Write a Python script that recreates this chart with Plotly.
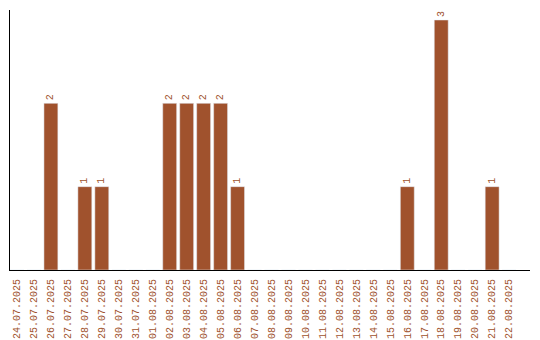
import plotly.graph_objects as go

dates = ["24.07.2025","25.07.2025","26.07.2025","27.07.2025","28.07.2025","29.07.2025",
         "30.07.2025","31.07.2025","01.08.2025","02.08.2025","03.08.2025","04.08.2025",
         "05.08.2025","06.08.2025","07.08.2025","08.08.2025","09.08.2025","10.08.2025",
         "11.08.2025","12.08.2025","13.08.2025","14.08.2025","15.08.2025","16.08.2025",
         "17.08.2025","18.08.2025","19.08.2025","20.08.2025","21.08.2025","22.08.2025"]
counts = [0,0,2,0,1,1,0,0,0,2,2,2,2,1,0,0,0,0,0,0,0,0,0,1,0,3,0,0,1,0]

color = "#A0522D"
labels = [str(c) if c > 0 else "" for c in counts]
font_family = "Liberation Mono"

fig = go.Figure(go.Bar(
    x=dates, y=counts, marker_color=color, width=0.82,
    text=labels, textposition="outside", textangle=-90,
    textfont=dict(family=font_family, size=10, color=color),
    cliponaxis=False,
))
fig.update_layout(
    width=540, height=340,
    margin=dict(l=10, r=10, t=10, b=70),
    plot_bgcolor="white", paper_bgcolor="white",
    showlegend=False, bargap=0.18,
    font=dict(family=font_family, size=10, color=color),
)
fig.update_xaxes(
    type="category", range=[-0.41, 30.23], showline=True, linecolor="black", linewidth=1,
    showgrid=False, ticks="", tickangle=-90, automargin=False, ticklabelstandoff=4,
    tickfont=dict(family=font_family, size=10, color=color),
)
fig.update_yaxes(
    range=[0, 3.12], showline=True, linecolor="black", linewidth=1, automargin=False,
    showgrid=False, zeroline=False, showticklabels=False, ticks="",
)
fig.write_html("out.html")
